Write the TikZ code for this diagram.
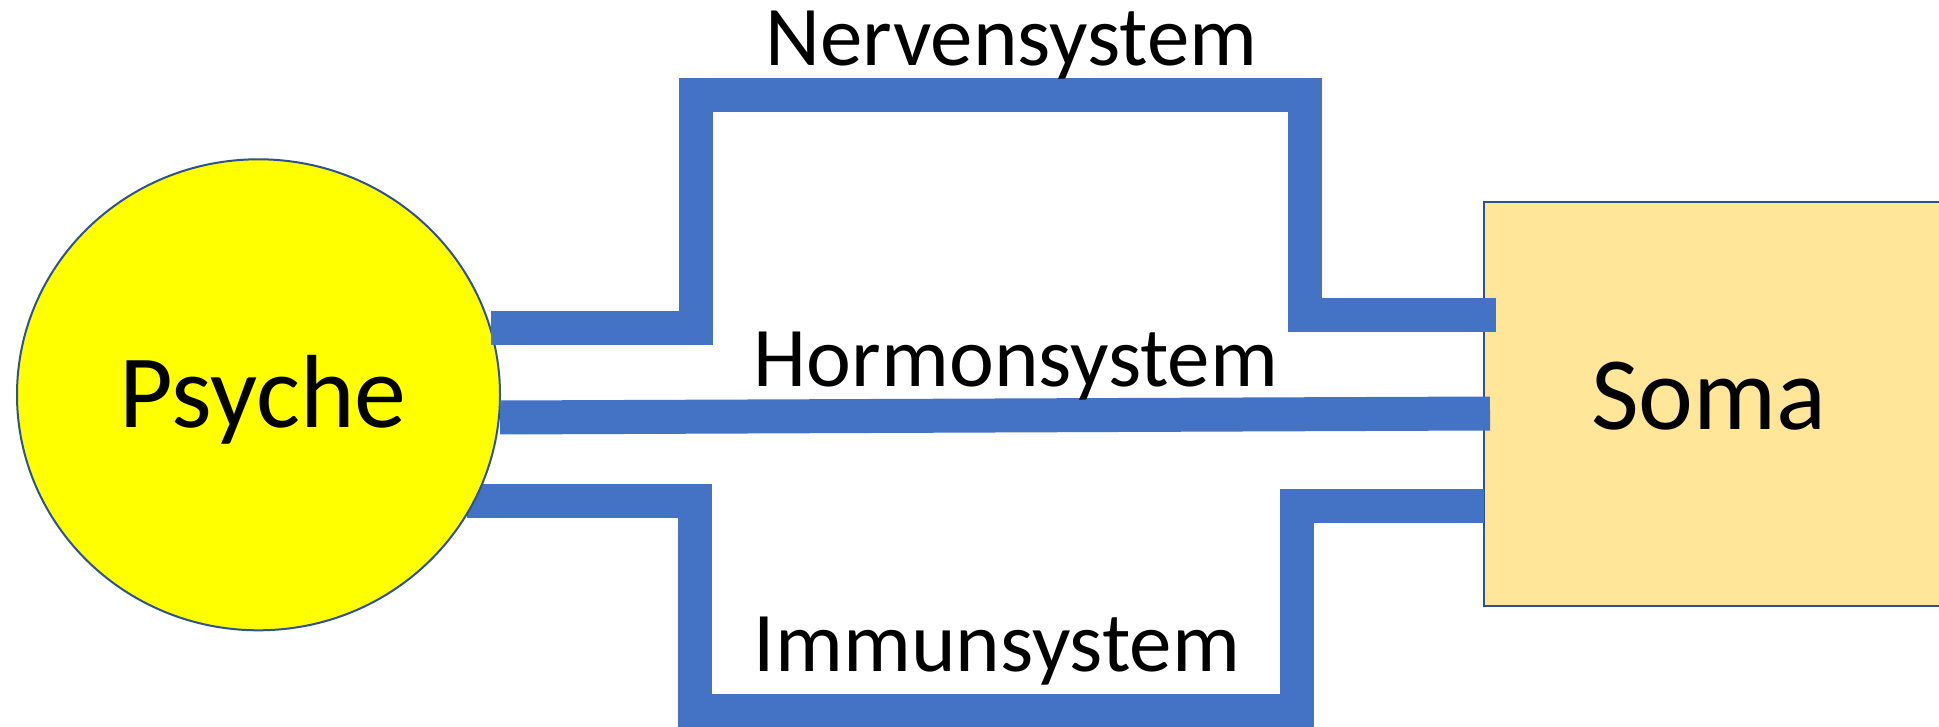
\documentclass[tikz,border=0pt]{standalone}
\usepackage{fontspec}
\setmainfont{Carlito}
\usetikzlibrary{shapes.geometric}
\definecolor{bandblue}{HTML}{4472C4}
\definecolor{edgeblue}{HTML}{2F528F}
\definecolor{psychefill}{HTML}{FFFF00}
\definecolor{somafill}{HTML}{FFE699}
\tikzset{
  band/.style={draw=bandblue, line width=34pt, line join=miter, line cap=butt},
  bigtext/.style={font=\fontsize{104}{120}\selectfont, inner sep=0pt, anchor=base},
  labeltext/.style={font=\fontsize{85}{100}\selectfont, inner sep=0pt, anchor=base west},
}
\begin{document}
\begin{tikzpicture}[x=1pt, y=-1pt]
  \useasboundingbox (0,0) rectangle (1939,727);
  \clip (0,0) rectangle (1939,727);
  \fill[white] (0,0) rectangle (1939,727);
  % Soma box
  \node[draw=edgeblue, line width=2pt, fill=somafill, rectangle, minimum width=476pt, minimum height=404pt, inner sep=0pt] (soma) at (1722,404) {};
  % coordinates for connector ends
  \coordinate (nS) at (491,328.3);
  \coordinate (nE) at (1495.6,315);
  \coordinate (hS) at (500,417.5);
  \coordinate (hE) at (1490,413.5);
  \coordinate (iS) at (467,501.4);
  \coordinate (iE) at (1484,506.4);
  % Immunsystem band (under the ellipse)
  \draw[band] (iS) -| (695,710.5) -| (1296.6,506.4) -- (iE);
  % Psyche ellipse
  \node[draw=edgeblue, line width=2pt, fill=psychefill, ellipse, minimum width=483pt, minimum height=471pt, inner sep=0pt] (psyche) at (258.5,394.8) {};
  % Nervensystem and Hormonsystem bands
  \draw[band] (nS) -| (696,95) -| (1305,315) -- (nE);
  \draw[band] (hS) -- (hE);
  % texts
  \node[bigtext] (psychelabel) at (263,427.3) {Psyche};
  \node[bigtext] (somalabel) at (1709,429) {Soma};
  \node[labeltext] (nervlabel) at (765.4,66) {Nervensystem};
  \node[labeltext] (hormlabel) at (753.7,386.4) {Hormonsystem};
  \node[labeltext] (immlabel) at (753.7,671.6) {Immunsystem};
\end{tikzpicture}
\end{document}
